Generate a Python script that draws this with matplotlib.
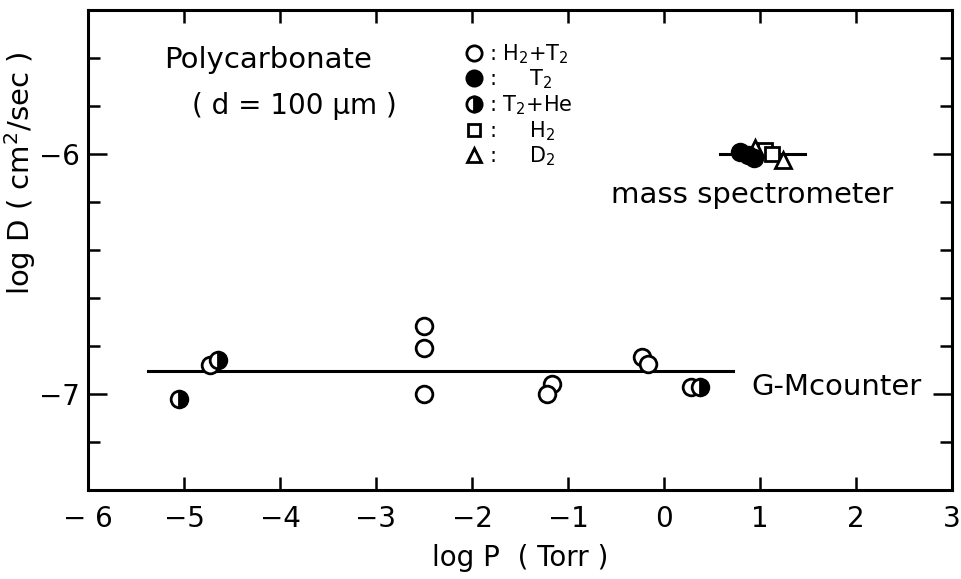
import numpy as np
import matplotlib.pyplot as plt
from matplotlib.lines import Line2D

plt.rcParams['font.family'] = ['DejaVu Sans']
plt.rcParams['mathtext.default'] = 'regular'

# G-M counter data (log P, log D)
gm_open_x = [-4.73, -2.5, -2.5, -2.5, -1.17, -1.22, -0.23, -0.17, 0.28]
gm_open_y = [-6.88, -6.715, -6.81, -7.0, -6.96, -7.0, -6.845, -6.875, -6.97]
gm_half_x = [-5.05, -4.65, 0.38]
gm_half_y = [-7.02, -6.86, -6.97]

# mass spectrometer data
ms_filled_x = [0.79, 0.875, 0.94]
ms_filled_y = [-5.99, -6.005, -6.015]
ms_square_x = [1.05, 1.125]
ms_square_y = [-5.985, -6.0]
ms_tri_x = [0.95, 1.24]
ms_tri_y = [-5.975, -6.025]

# fitted lines
gm_line_x = [-5.37, 0.72]
gm_line_y = [-6.905, -6.905]
ms_line_x = [0.58, 1.47]
ms_line_y = [-6.0, -6.0]

fig = plt.figure(figsize=(9.62, 5.79), dpi=100)
ax = fig.add_axes([0.0915, 0.1537, 0.898, 0.829])

ax.plot(gm_line_x, gm_line_y, color='black', lw=2.2, zorder=1)
ax.plot(ms_line_x, ms_line_y, color='black', lw=2.2, zorder=1)

ms = 12
mew = 2.0
ax.plot(gm_open_x, gm_open_y, 'o', ms=ms, mfc='white', mec='black', mew=mew, ls='none', zorder=3)
ax.plot(gm_half_x, gm_half_y, 'o', ms=ms, fillstyle='right', mfc='black', mfcalt='white',
        mec='black', mew=mew, ls='none', zorder=3)
ax.plot(ms_square_x, ms_square_y, 's', ms=10, mfc='white', mec='black', mew=mew, ls='none', zorder=3)
ax.plot(ms_tri_x, ms_tri_y, '^', ms=11, mfc='white', mec='black', mew=mew, ls='none', zorder=3)
ax.plot(ms_filled_x, ms_filled_y, 'o', ms=ms, mfc='black', mec='black', mew=mew, ls='none', zorder=4)

ax.set_xlim(-6, 3)
ax.set_ylim(-7.4, -5.4)
ax.set_xticks(np.arange(-6, 4, 1))
ax.set_xticklabels(['\u2212 6', '\u22125', '\u22124', '\u22123', '\u22122', '\u22121', '0', '1', '2', '3'])
ax.set_yticks([-7, -6])
ax.set_yticklabels(['\u22127', '\u22126'])
ax.set_yticks(np.arange(-7.2, -5.4, 0.2), minor=True)

ax.tick_params(axis='x', which='major', direction='in', length=9.5, width=1.8,
               labelsize=20, pad=11, top=True)
ax.tick_params(axis='y', which='major', direction='in', length=14, width=1.8,
               labelsize=20, pad=6, right=True)
ax.tick_params(axis='y', which='minor', direction='in', length=8.5, width=1.8, right=True)
for s in ax.spines.values():
    s.set_linewidth(2.2)

ax.set_xlabel('log P  ( Torr )', fontsize=20, labelpad=8)
ax.set_ylabel('log D ( cm$^2$/sec )', fontsize=21)
ax.yaxis.set_label_coords(-0.058, 0.66)

ax.text(0.088, 0.895, 'Polycarbonate', transform=ax.transAxes, fontsize=21, ha='left', va='center')
ax.text(0.12, 0.80, '( d = 100 \u00b5m )', transform=ax.transAxes, fontsize=20, ha='left', va='center')
ax.text(0.605, 0.615, 'mass spectrometer', transform=ax.transAxes, fontsize=21, ha='left', va='center')
ax.text(0.768, 0.215, 'G-Mcounter', transform=ax.transAxes, fontsize=21, ha='left', va='center')

handles = [
    Line2D([], [], marker='o', ms=11, mfc='white', mec='black', mew=2, ls='none'),
    Line2D([], [], marker='o', ms=11, mfc='black', mec='black', mew=2, ls='none'),
    Line2D([], [], marker='o', ms=11, fillstyle='right', mfc='black', mfcalt='white', mec='black', mew=2, ls='none'),
    Line2D([], [], marker='s', ms=9, mfc='white', mec='black', mew=2, ls='none'),
    Line2D([], [], marker='^', ms=10, mfc='white', mec='black', mew=2, ls='none'),
]
labels = [': H$_2$+T$_2$', ':     T$_2$', ': T$_2$+He', ':     H$_2$', ':     D$_2$']
ax.legend(handles, labels, loc='upper left', bbox_to_anchor=(0.425, 0.955), frameon=False,
          fontsize=15, handlelength=0.8, handletextpad=0.3, labelspacing=0.1, borderpad=0)

fig.savefig('out.png', dpi=100)
